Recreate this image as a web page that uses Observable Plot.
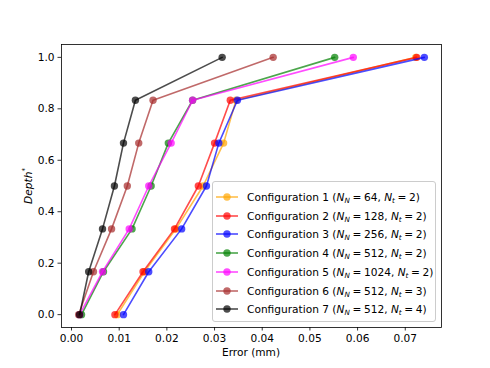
<!DOCTYPE html>
<html>
<head>
<meta charset="utf-8">
<script src="https://cdn.jsdelivr.net/npm/d3@7"></script>
<script src="https://cdn.jsdelivr.net/npm/@observablehq/plot@0.6"></script>
<style>
  body { margin: 0; background: white; }
  #wrap { position: relative; width: 490px; height: 368px; font-family: "DejaVu Sans", sans-serif; color: #000; }
  #ylab { position: absolute; left: 28px; top: 186px; transform: translate(-50%, -50%) rotate(-90deg); font-size: 10.6px; font-style: italic; white-space: nowrap; }
  #ylab sup { font-size: 7px; position: relative; top: -1px; }
  #xlab { position: absolute; left: 251px; top: 352px; transform: translate(-50%, -50%); font-size: 10.6px; white-space: nowrap; }
  #legend { position: absolute; left: 212px; top: 181px; width: 224px; height: 141px; box-sizing: border-box;
            border: 1px solid #cccccc; border-radius: 3px; background: rgba(255,255,255,0.8); font-size: 10.6px; }
  .row { position: absolute; left: 0; height: 18px; display: flex; align-items: center; white-space: nowrap; }
  .row svg { margin-left: 2px; margin-right: 8px; }
  .row sub { font-size: 7.2px; vertical-align: -2px; line-height: 0; }
</style>
</head>
<body>
<div id="wrap">
  <div id="chart"></div>
  <div id="ylab">Depth<sup>*</sup></div>
  <div id="xlab">Error (mm)</div>
  <div id="legend"></div>
</div>
<script>
const depth = [0, 0.1667, 0.3333, 0.5, 0.6667, 0.8333, 1.0];

const names = ["Configuration 1", "Configuration 2", "Configuration 3", "Configuration 4", "Configuration 5", "Configuration 6", "Configuration 7"];
const nN = ["64", "128", "256", "512", "1024", "512", "512"];
const nT = ["2", "2", "2", "2", "2", "3", "4"];
const colors = ["#FFA500", "#FF0000", "#0000FF", "#008000", "#FF00FF", "#A52A2A", "#000000"];

const err1 = [0.0096, 0.0153, 0.0219, 0.0276, 0.0319, 0.0345, 0.0722];
const err2 = [0.0091, 0.0150, 0.0216, 0.0266, 0.0300, 0.0333, 0.0724];
const err3 = [0.0109, 0.0162, 0.0231, 0.0283, 0.0309, 0.0348, 0.0740];
const err4 = [0.0021, 0.0067, 0.0127, 0.0167, 0.0203, 0.0254, 0.0552];
const err5 = [0.0017, 0.0065, 0.0121, 0.0162, 0.0209, 0.0254, 0.0591];
const err6 = [0.0015, 0.0046, 0.0084, 0.0117, 0.0141, 0.0171, 0.0423];
const err7 = [0.0017, 0.0036, 0.0065, 0.0090, 0.0109, 0.0134, 0.0316];
const errs = [err1, err2, err3, err4, err5, err6, err7];

const xTicks = [0.00, 0.01, 0.02, 0.03, 0.04, 0.05, 0.06, 0.07];
const yTicks = [0.0, 0.2, 0.4, 0.6, 0.8, 1.0];

const marks = [];
errs.forEach((e, i) => {
  const rows = e.map((v, j) => ({err: v, depth: depth[j]}));
  marks.push(Plot.line(rows, {x: "err", y: "depth", stroke: colors[i], strokeWidth: 1.6, strokeOpacity: 0.7}));
  marks.push(Plot.dot(rows, {x: "err", y: "depth", fill: colors[i], fillOpacity: 0.7, r: 3.7}));
});

const chart = Plot.plot({
  width: 490,
  height: 368,
  marginLeft: 61,
  marginRight: 49,
  marginTop: 44,
  marginBottom: 41,
  style: {fontFamily: "DejaVu Sans", fontSize: "10.6px", color: "#000", background: "white"},
  x: {domain: [-0.0021, 0.0776], label: null},
  y: {domain: [-0.05, 1.05], label: null},
  marks: [
    ...marks,
    Plot.axisX(xTicks, {tickFormat: d3.format(".2f"), tickSize: 3.5, tickPadding: 3.5, label: null, stroke: "#000", strokeOpacity: 1, strokeWidth: 0.8}),
    Plot.axisY(yTicks, {tickFormat: d3.format(".1f"), tickSize: 3.5, tickPadding: 3.5, label: null, stroke: "#000", strokeOpacity: 1, strokeWidth: 0.8}),
    Plot.frame({stroke: "#000", strokeWidth: 0.8})
  ]
});
document.getElementById("chart").appendChild(chart);

const sp = "\u2005";
const legend = document.getElementById("legend");
names.forEach((n, i) => {
  const row = document.createElement("div");
  row.className = "row";
  row.style.top = (6 + i * 18.7) + "px";
  row.innerHTML = `<svg width="24" height="10"><line x1="1" x2="23" y1="5" y2="5" stroke="${colors[i]}" stroke-opacity="0.7" stroke-width="1.6"/><circle cx="12" cy="5" r="3.7" fill="${colors[i]}" fill-opacity="0.7"/></svg>` +
    `<span>${n} (<i>N</i><sub><i>N</i></sub>${sp}=${sp}${nN[i]}, <i>N</i><sub><i>t</i></sub>${sp}=${sp}${nT[i]})</span>`;
  legend.appendChild(row);
});
</script>
</body>
</html>
